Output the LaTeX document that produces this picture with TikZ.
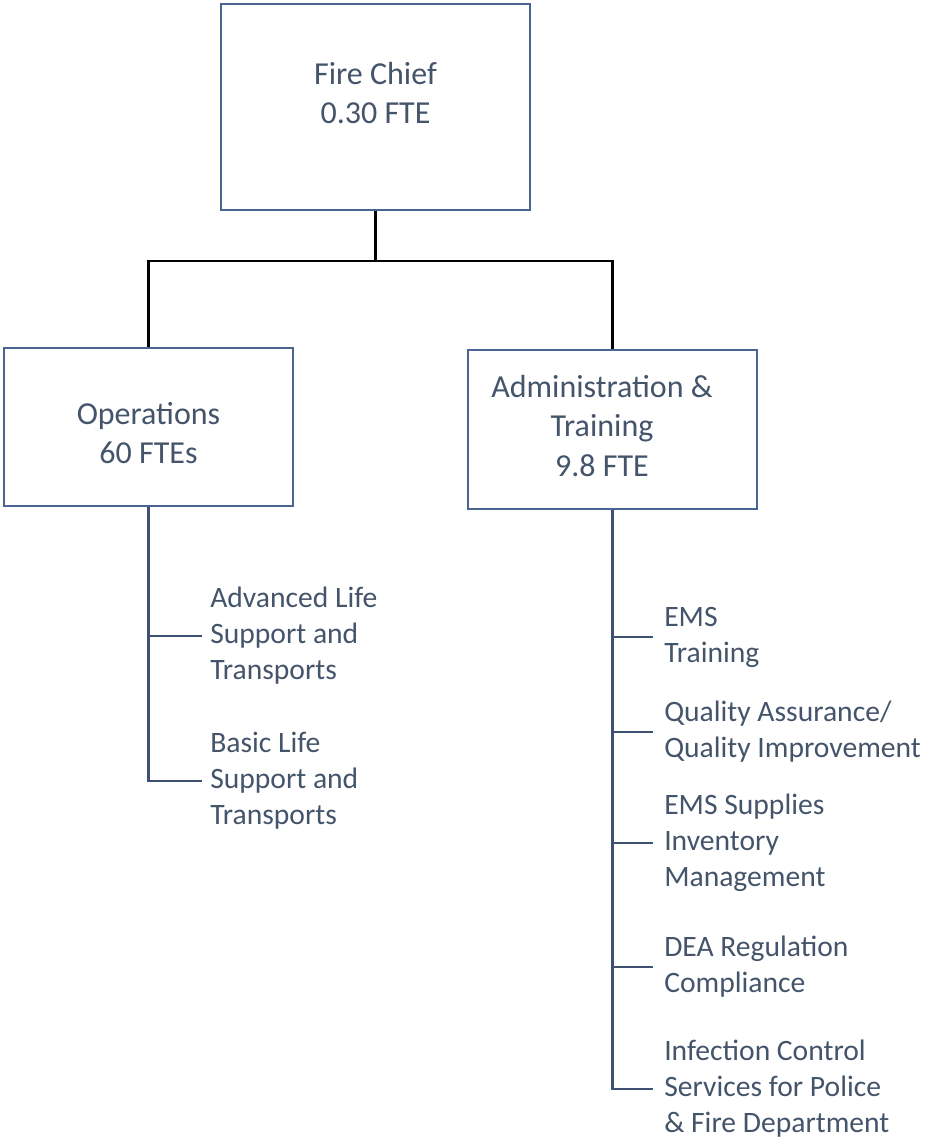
\documentclass[tikz,border=0pt]{standalone}
\usepackage{fontspec}
\setmainfont{Carlito}
\definecolor{txt}{HTML}{44546A}
\definecolor{boxc}{HTML}{4A6591}
\definecolor{linec}{HTML}{3E5173}
\begin{document}
\begin{tikzpicture}[x=0.75pt,y=-0.75pt,
  box/.style={draw=boxc,line width=1.4pt,fill=white,inner sep=0pt},
  boxtxt/.style={text=txt,align=center,inner sep=0pt,
    font=\fontsize{24}{29.5}\selectfont},
  lbl/.style={anchor=west,text=txt,align=left,inner sep=0pt,
    font=\fontsize{22.2}{27}\selectfont},
  top/.style={draw=black,line width=1.6pt},
  sub/.style={draw=linec,line width=1.6pt}]
\useasboundingbox (0,0) rectangle (925,1141);
% boxes
\node[box,minimum width=231.75pt,minimum height=154.5pt] (chief) at (375.5,107) {};
\node[boxtxt] (chiefT) at (375.5,93) {Fire Chief\\0.30 FTE};
\node[box,minimum width=216.75pt,minimum height=118.5pt] (ops) at (148.5,427) {};
\node[boxtxt] (opsT) at (148.5,433) {Operations\\60 FTEs};
\node[box,minimum width=216.75pt,minimum height=119.25pt] (adm) at (612.5,429.5) {};
\node[boxtxt] (admT) at (602,426) {Administration \&\\Training\\9.8 FTE};
% top connectors
\coordinate (hub) at (375.5,261);
\draw[top] (chief.south) -- (hub);
\draw[top] (hub) -| (ops.north);
\draw[top] (hub) -| (adm.north);
% operations labels
\node[lbl] (als) at (210,636) {Advanced Life\\Support and\\Transports};
\node[lbl] (bls) at (210,781) {Basic Life\\Support and\\Transports};
\coordinate (alsT) at (202,636);
\coordinate (blsT) at (202,781);
\draw[sub] (ops.south) -- (ops.south |- blsT) -- (blsT);
\draw[sub] (ops.south |- alsT) -- (alsT);
% admin labels
\node[lbl] (ems) at (664,637) {EMS\\Training};
\node[lbl] (qa) at (664,732) {Quality Assurance/\\Quality Improvement};
\node[lbl] (inv) at (664,843) {EMS Supplies\\Inventory\\Management};
\node[lbl] (dea) at (664,967) {DEA Regulation\\Compliance};
\node[lbl] (inf) at (664,1089) {Infection Control\\Services for Police\\\& Fire Department};
\coordinate (emsT) at (653,637);
\coordinate (qaT) at (653,732);
\coordinate (invT) at (653,843);
\coordinate (deaT) at (653,967);
\coordinate (infT) at (653,1089);
\draw[sub] (adm.south) -- (adm.south |- infT) -- (infT);
\draw[sub] (adm.south |- emsT) -- (emsT);
\draw[sub] (adm.south |- qaT) -- (qaT);
\draw[sub] (adm.south |- invT) -- (invT);
\draw[sub] (adm.south |- deaT) -- (deaT);
\end{tikzpicture}
\end{document}
